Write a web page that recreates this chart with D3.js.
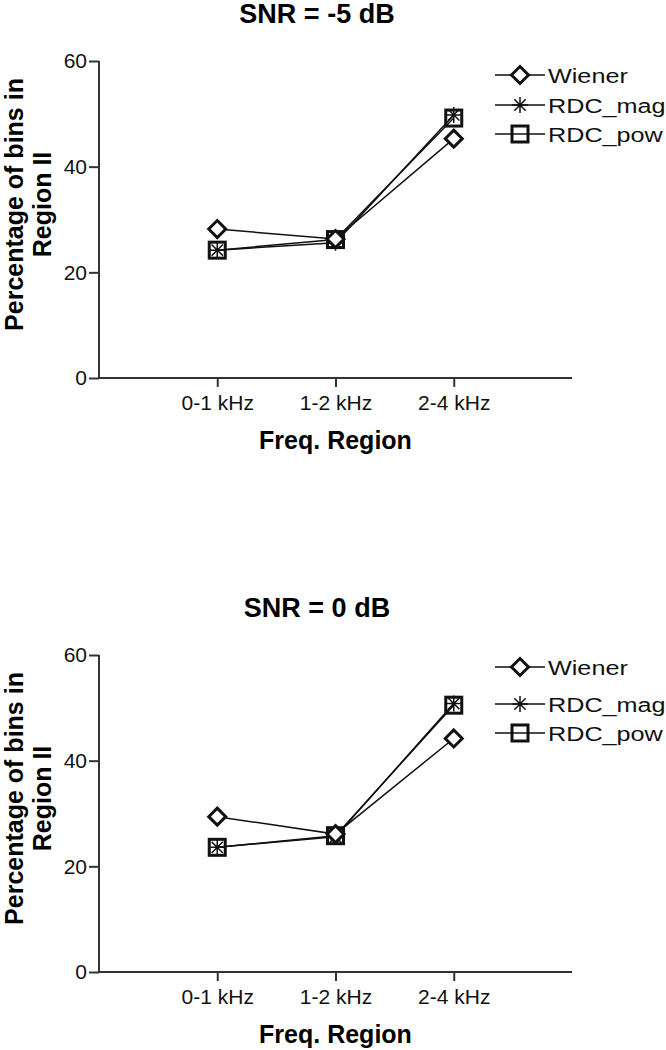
<!DOCTYPE html>
<html><head><meta charset="utf-8">
<script src="https://cdn.jsdelivr.net/npm/d3@7"></script>
<style>body{margin:0;background:#fff}svg{display:block}text{font-family:"Liberation Sans",Arial,sans-serif}</style>
</head><body>
<script>
const categories = ["0-1 kHz", "1-2 kHz", "2-4 kHz"];
const seriesNames = ["Wiener", "RDC_mag", "RDC_pow"];
const titles = ["SNR = -5 dB", "SNR = 0 dB"];
const yTicks = [0, 20, 40, 60];
// panel 1: SNR = -5 dB
const wiener1 = [28.2, 26.3, 45.3];
const rdcMag1 = [24.2, 25.6, 49.8];
const rdcPow1 = [24.2, 26.2, 49.2];
// panel 2: SNR = 0 dB
const wiener2 = [29.4, 26.1, 44.2];
const rdcMag2 = [23.6, 25.6, 50.8];
const rdcPow2 = [23.6, 25.8, 50.5];

const panels = [
  {title: titles[0], series: [wiener1, rdcMag1, rdcPow1], top: 61, leg: [14, 44, 73]},
  {title: titles[1], series: [wiener2, rdcMag2, rdcPow2], top: 655, leg: [12, 49, 78]}
];

const W = 666, H = 1050;
const svg = d3.select("body").append("svg").attr("width", W).attr("height", H);
const left = 99, right = 572, plotH = 317;
const ink = "#111";

function drawMarker(g, type, x, y) {
  if (type === 0) {
    const s = 8.5;
    g.append("path").attr("d", `M${x},${y-s}L${x+s},${y}L${x},${y+s}L${x-s},${y}Z`)
      .attr("fill", "#fff").attr("stroke", ink).attr("stroke-width", 3);
  } else if (type === 1) {
    const r = 8;
    let d = "";
    for (let i = 0; i < 4; i++) {
      const a = i * Math.PI / 4;
      d += `M${x - r*Math.cos(a)},${y - r*Math.sin(a)}L${x + r*Math.cos(a)},${y + r*Math.sin(a)}`;
    }
    g.append("path").attr("d", d).attr("stroke", ink).attr("stroke-width", 1.5).attr("fill", "none");
  } else {
    const s = 8;
    g.append("rect").attr("x", x - s).attr("y", y - s).attr("width", 2*s).attr("height", 2*s)
      .attr("fill", "none").attr("stroke", ink).attr("stroke-width", 3);
  }
}

panels.forEach(p => {
  const g = svg.append("g");
  const x = d3.scaleLinear().domain([0, 4]).range([left, right]);
  const y = d3.scaleLinear().domain([0, 60]).range([p.top + plotH, p.top]);

  g.append("text").attr("x", 317).attr("y", p.top - 38).attr("text-anchor", "middle")
    .style("font-size", "27px").attr("font-weight", "bold").text(p.title);

  const ya = g.append("g").attr("transform", `translate(${left},0)`)
    .call(d3.axisLeft(y).tickValues(yTicks).tickSize(10).tickPadding(2).tickFormat(d3.format("d")));
  ya.select(".domain").attr("stroke", "#333").attr("stroke-width", 2).attr("d", `M0,${y(60)}V${y(0)}`);
  ya.selectAll(".tick line").attr("stroke", "#333").attr("stroke-width", 2);
  ya.selectAll(".tick text").style("font-size", "21px").attr("fill", ink);

  const xa = g.append("g").attr("transform", `translate(0,${y(0)})`)
    .call(d3.axisBottom(x).tickValues([1, 2, 3]).tickSize(9).tickPadding(8).tickFormat(d => categories[d - 1]));
  xa.select(".domain").attr("stroke", "#333").attr("stroke-width", 2).attr("d", `M${left},0H${right}`);
  xa.selectAll(".tick line").attr("stroke", "#333").attr("stroke-width", 2);
  xa.selectAll(".tick text").style("font-size", "21px").attr("fill", ink);

  g.append("text").attr("x", (left + right) / 2).attr("y", y(0) + 71).attr("text-anchor", "middle")
    .style("font-size", "25px").attr("font-weight", "bold").text("Freq. Region");

  const cy = p.top + plotH / 2 - 15;
  const yt = g.append("text").attr("transform", `translate(0,${cy}) rotate(-90)`)
    .attr("text-anchor", "middle").style("font-size", "25px").attr("font-weight", "bold");
  yt.append("tspan").attr("x", 0).attr("y", 22.5).text("Percentage of bins in");
  yt.append("tspan").attr("x", 0).attr("y", 51).text("Region II");

  const line = d3.line().x((d, i) => x(i + 1)).y(d => y(d));
  p.series.forEach(s => {
    g.append("path").attr("d", line(s)).attr("fill", "none").attr("stroke", ink).attr("stroke-width", 1.5);
  });
  [2, 1, 0].forEach(k => {
    p.series[k].forEach((v, i) => drawMarker(g, k, x(i + 1), y(v)));
  });

  // legend
  seriesNames.forEach((n, k) => {
    const ly = p.top + p.leg[k];
    g.append("line").attr("x1", 495).attr("x2", 545).attr("y1", ly).attr("y2", ly)
      .attr("stroke", ink).attr("stroke-width", 1.5);
    drawMarker(g, k, 520, ly);
    g.append("text").attr("transform", `translate(548,${ly + 7.5}) scale(1.2,1)`)
      .style("font-size", "21px").attr("fill", ink).text(n);
  });
});
</script>
</body></html>
